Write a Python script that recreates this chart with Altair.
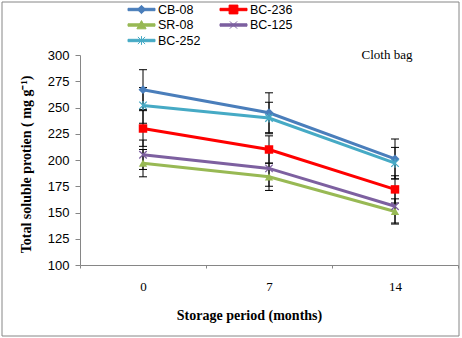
import altair as alt
import pandas as pd

# ---- data ----
periods = ["0", "7", "14"]
series_names = ["CB-08", "BC-236", "SR-08", "BC-125", "BC-252"]
cb08 = [267, 245, 201]
bc236 = [230, 210, 172]
sr08 = [197, 184, 151]
bc125 = [205, 192, 156]
bc252 = [252, 240, 197]
cb08_err = [19, 19, 19]
bc236_err = [17, 13, 13]
sr08_err = [13, 13, 12]
bc125_err = [14, 17, 16]
bc252_err = [17, 15, 15]
y_ticks = [100, 125, 150, 175, 200, 225, 250, 275, 300]
note_text = ["Cloth bag"]
legend_col = [0, 1, 0, 1, 0]
legend_row = [0, 0, 1, 1, 2]

colors = ["#4A7EBB", "#FF0000", "#98B954", "#7D60A0", "#46AAC5"]

values = [cb08, bc236, sr08, bc125, bc252]
errors = [cb08_err, bc236_err, sr08_err, bc125_err, bc252_err]

rows = []
for name, vals, errs in zip(series_names, values, errors):
    for p, v, e in zip(periods, vals, errs):
        rows.append({"Series": name, "Period": p, "Value": v, "Low": v - e, "High": v + e})
df = pd.DataFrame(rows)

GRAY = "#868686"

x_axis = alt.Axis(
    title="Storage period (months)", titleFont="Liberation Serif", titleFontWeight="bold",
    titleFontSize=14, titleColor="black", titleX=169, titlePadding=15,
    labelFont="Liberation Serif", labelFontSize=13, labelColor="black", labelAngle=0,
    labelPadding=12, tickBand="extent", tickSize=3, tickColor=GRAY, domainColor=GRAY,
    grid=False,
)
y_axis = alt.Axis(
    title="Total soluble protien ( mg g\u207b\u00b9)", titleFont="Liberation Serif",
    titleFontWeight="bold", titleFontSize=14, titleColor="black", titlePadding=14,
    titleY=109,
    values=y_ticks, labelFont="Liberation Sans", labelFontSize=13, labelColor="black",
    labelPadding=6, tickSize=5, tickColor=GRAY, domainColor=GRAY, grid=False,
)


def xe():
    return alt.X("Period:O", sort=periods,
                 scale=alt.Scale(type="band", domain=periods, paddingInner=0, paddingOuter=0),
                 axis=x_axis)


def ye(field="Value"):
    return alt.Y(f"{field}:Q", scale=alt.Scale(domain=[100, 300], nice=False, zero=False),
                 axis=y_axis)


color_scale = alt.Scale(domain=series_names, range=colors)
color_enc = alt.Color("Series:N", scale=color_scale, legend=None)

base = alt.Chart(df)

err_rule = base.mark_rule(color="black", strokeWidth=1).encode(x=xe(), y=ye("Low"), y2="High:Q")
cap_lo = base.mark_tick(color="black", thickness=1, size=8, opacity=1).encode(x=xe(), y=ye("Low"))
cap_hi = base.mark_tick(color="black", thickness=1, size=8, opacity=1).encode(x=xe(), y=ye("High"))

lines = base.mark_line(strokeWidth=3).encode(x=xe(), y=ye(), color=color_enc)

x_path = "M-1,-1L1,1M-1,1L1,-1"
ast_path = "M-1,-1L1,1M-1,1L1,-1M0,-1.2L0,1.2"
marker_specs = [
    ("CB-08", dict(shape="diamond", filled=True, size=80)),
    ("BC-236", dict(shape="square", filled=True, size=72)),
    ("SR-08", dict(shape="triangle-up", filled=True, size=70)),
    ("BC-125", dict(shape=x_path, filled=False, size=56, strokeWidth=1.3)),
    ("BC-252", dict(shape=ast_path, filled=False, size=56, strokeWidth=1.3)),
]
point_layers = []
for name, spec in marker_specs:
    point_layers.append(
        base.transform_filter(alt.datum.Series == name)
        .mark_point(opacity=1, **spec)
        .encode(x=xe(), y=ye(), color=color_enc)
    )

main = alt.layer(err_rule, cap_lo, cap_hi, lines, *point_layers)

# ---- legend (drawn with marks: line + marker symbol, then label) ----
line_part = "M-3.375,-0.3H3.375V0.3H-3.375Z"
legend_paths = [
    line_part + "M0,-1.05L1.05,0L0,1.05L-1.05,0Z",
    line_part + "M-1.1,-1.1H1.1V1.1H-1.1Z",
    line_part + "M0,-1.1L1.15,0.95H-1.15Z",
    line_part + "M-0.9,-0.9L0.9,0.9M-0.9,0.9L0.9,-0.9",
    line_part + "M-0.9,-0.9L0.9,0.9M-0.9,0.9L0.9,-0.9M0,-1.1L0,1.1",
]
leg_df = pd.DataFrame({"Series": series_names, "col": legend_col, "row": legend_row})
leg_x = alt.X("col:Q", scale=alt.Scale(domain=[0, 1], range=[48, 140]), axis=None)
leg_y = alt.Y("row:Q", scale=alt.Scale(domain=[0, 2], range=[-45.5, -14.5]), axis=None)
leg_base = alt.Chart(leg_df)
leg_symbols = leg_base.mark_point(filled=True, size=64, strokeWidth=1, opacity=1, xOffset=13.5).encode(
    x=leg_x, y=leg_y,
    color=alt.Color("Series:N", scale=color_scale, legend=None),
    stroke=alt.Stroke("Series:N", scale=alt.Scale(domain=series_names, range=colors), legend=None),
    shape=alt.Shape("Series:N", scale=alt.Scale(domain=series_names, range=legend_paths), legend=None),
)
leg_labels = leg_base.mark_text(
    align="left", baseline="middle", dx=30, font="Liberation Sans", fontSize=12.5, color="black"
).encode(x=leg_x, y=leg_y, text="Series:N")
legend = alt.layer(leg_symbols, leg_labels)

note = alt.Chart(pd.DataFrame({"t": note_text})).mark_text(
    font="Liberation Serif", fontSize=13, color="black", align="center", baseline="middle"
).encode(text="t:N", x=alt.value(307), y=alt.value(0))

border = alt.Chart(pd.DataFrame({"a": [0]})).mark_rect(
    fill="transparent", stroke=GRAY, strokeWidth=1
).encode(x=alt.value(-78), x2=alt.value(379), y=alt.value(-53), y2=alt.value(281))

chart = alt.layer(border, main, legend, note).resolve_scale(
    x="independent", y="independent"
).properties(
    width=378, height=210,
    autosize=alt.AutoSizeParams(type="none"),
    padding={"left": 80, "top": 55, "right": 4, "bottom": 73},
).configure_view(stroke=None)

chart.save("out.html", embed_options={"renderer": "svg", "actions": False})
